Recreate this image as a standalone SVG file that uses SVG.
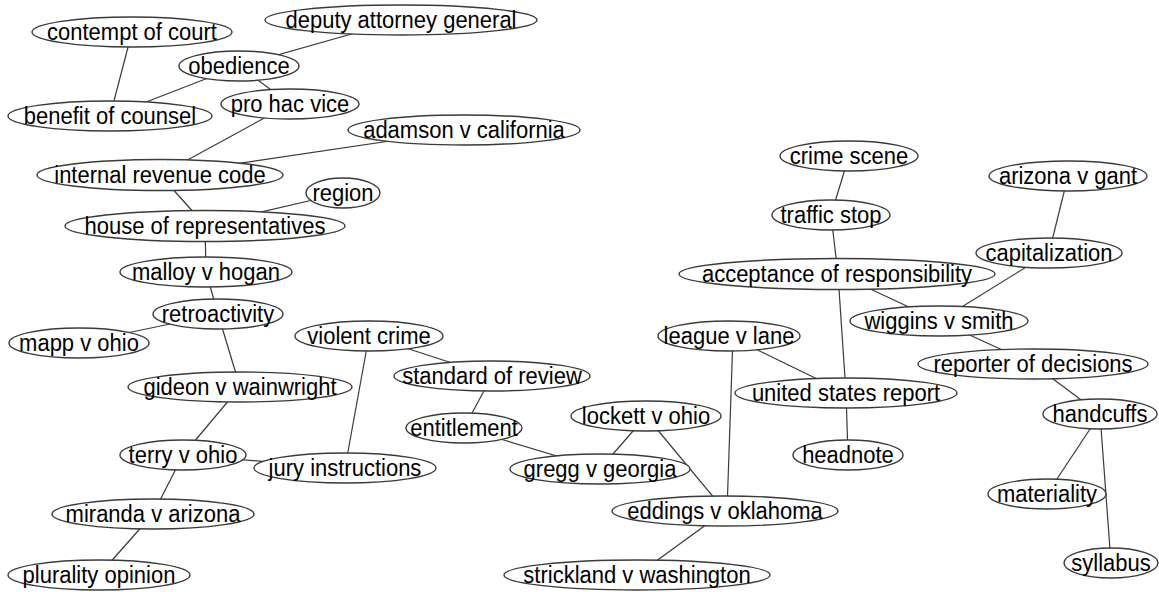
<svg xmlns="http://www.w3.org/2000/svg" width="1159" height="592" viewBox="0 0 1159 592">
  <style>
    .edge { stroke: #3a3a3a; stroke-width: 1.2; fill: none; }
    .node ellipse { fill: #ffffff; stroke: #3a3a3a; stroke-width: 1.4; }
    .node text { font-family: "Liberation Sans", Arial, sans-serif; font-size: 22px; fill: #000000; text-anchor: middle; dominant-baseline: central;
                 transform-box: fill-box; transform-origin: center; transform: scaleY(1.12); }
  </style>
  <rect width="1159" height="592" fill="#ffffff"/>

  <!-- connectors, drawn centre to centre beneath the filled ellipses -->
  <g id="edges" class="edge">
    <line x1="132" y1="32" x2="110" y2="116"/>
    <line x1="401" y1="20" x2="239" y2="66"/>
    <line x1="239" y1="66" x2="110" y2="116"/>
    <line x1="239" y1="66" x2="290" y2="104"/>
    <line x1="290" y1="104" x2="160" y2="175"/>
    <line x1="464" y1="130" x2="160" y2="175"/>
    <line x1="160" y1="175" x2="205" y2="225"/>
    <line x1="343" y1="193" x2="205" y2="225"/>
    <line x1="205" y1="225" x2="206" y2="272"/>
    <line x1="206" y1="272" x2="218" y2="314"/>
    <line x1="218" y1="314" x2="79" y2="343"/>
    <line x1="218" y1="314" x2="240" y2="387"/>
    <line x1="240" y1="387" x2="183" y2="455"/>
    <line x1="183" y1="455" x2="345" y2="468"/>
    <line x1="183" y1="455" x2="153" y2="514"/>
    <line x1="153" y1="514" x2="99" y2="575"/>
    <line x1="369" y1="336" x2="345" y2="468"/>
    <line x1="369" y1="336" x2="492" y2="376"/>
    <line x1="492" y1="376" x2="464" y2="428"/>
    <line x1="464" y1="428" x2="600" y2="469"/>
    <line x1="646" y1="416" x2="600" y2="469"/>
    <line x1="646" y1="416" x2="725" y2="511"/>
    <line x1="733" y1="336" x2="727" y2="511"/>
    <line x1="729" y1="336" x2="846" y2="393"/>
    <line x1="725" y1="511" x2="637" y2="575"/>
    <line x1="849" y1="156" x2="831" y2="215"/>
    <line x1="831" y1="215" x2="838" y2="274"/>
    <line x1="838" y1="274" x2="846" y2="393"/>
    <line x1="838" y1="274" x2="939" y2="321"/>
    <line x1="1068" y1="176" x2="1049" y2="253"/>
    <line x1="1049" y1="253" x2="939" y2="321"/>
    <line x1="939" y1="321" x2="1033" y2="364"/>
    <line x1="1033" y1="364" x2="1100" y2="414"/>
    <line x1="846" y1="393" x2="848" y2="455"/>
    <line x1="1100" y1="414" x2="1047" y2="494"/>
    <line x1="1100" y1="414" x2="1111" y2="563"/>
  </g>

  <g id="contempt-of-court" class="node"><ellipse cx="132" cy="32" rx="100" ry="15"/><text x="132" y="32">contempt of court</text></g>
  <g id="deputy-attorney-general" class="node"><ellipse cx="401" cy="20" rx="136" ry="15"/><text x="401" y="20">deputy attorney general</text></g>
  <g id="obedience" class="node"><ellipse cx="239" cy="66" rx="60" ry="15"/><text x="239" y="66">obedience</text></g>
  <g id="benefit-of-counsel" class="node"><ellipse cx="110" cy="116" rx="102" ry="15"/><text x="110" y="116">benefit of counsel</text></g>
  <g id="pro-hac-vice" class="node"><ellipse cx="290" cy="104" rx="69" ry="15"/><text x="290" y="104">pro hac vice</text></g>
  <g id="adamson-v-california" class="node"><ellipse cx="464" cy="130" rx="116" ry="15"/><text x="464" y="130">adamson v california</text></g>
  <g id="internal-revenue-code" class="node"><ellipse cx="160" cy="175" rx="123" ry="15.5"/><text x="160" y="175">internal revenue code</text></g>
  <g id="region" class="node"><ellipse cx="343" cy="193" rx="37" ry="15"/><text x="343" y="193">region</text></g>
  <g id="house-of-representatives" class="node"><ellipse cx="205" cy="226" rx="140" ry="15.5"/><text x="205" y="226">house of representatives</text></g>
  <g id="malloy-v-hogan" class="node"><ellipse cx="206" cy="272" rx="86" ry="15"/><text x="206" y="272">malloy v hogan</text></g>
  <g id="retroactivity" class="node"><ellipse cx="218" cy="314" rx="65" ry="15"/><text x="218" y="314">retroactivity</text></g>
  <g id="mapp-v-ohio" class="node"><ellipse cx="79" cy="343" rx="70" ry="15"/><text x="79" y="343">mapp v ohio</text></g>
  <g id="violent-crime" class="node"><ellipse cx="369" cy="336" rx="74" ry="15"/><text x="369" y="336">violent crime</text></g>
  <g id="standard-of-review" class="node"><ellipse cx="492" cy="376" rx="98" ry="15"/><text x="492" y="376">standard of review</text></g>
  <g id="gideon-v-wainwright" class="node"><ellipse cx="240" cy="387" rx="112" ry="15"/><text x="240" y="387">gideon v wainwright</text></g>
  <g id="entitlement" class="node"><ellipse cx="464" cy="428" rx="58" ry="15"/><text x="464" y="428">entitlement</text></g>
  <g id="terry-v-ohio" class="node"><ellipse cx="183" cy="455" rx="63" ry="15"/><text x="183" y="455">terry v ohio</text></g>
  <g id="jury-instructions" class="node"><ellipse cx="345" cy="468" rx="91" ry="15"/><text x="345" y="468">jury instructions</text></g>
  <g id="lockett-v-ohio" class="node"><ellipse cx="646" cy="416" rx="75" ry="15"/><text x="646" y="416">lockett v ohio</text></g>
  <g id="gregg-v-georgia" class="node"><ellipse cx="600" cy="469" rx="90" ry="15"/><text x="600" y="469">gregg v georgia</text></g>
  <g id="miranda-v-arizona" class="node"><ellipse cx="153" cy="514" rx="101" ry="15"/><text x="153" y="514">miranda v arizona</text></g>
  <g id="eddings-v-oklahoma" class="node"><ellipse cx="725" cy="511" rx="113" ry="15"/><text x="725" y="511">eddings v oklahoma</text></g>
  <g id="plurality-opinion" class="node"><ellipse cx="99" cy="575" rx="91" ry="15"/><text x="99" y="575">plurality opinion</text></g>
  <g id="strickland-v-washington" class="node"><ellipse cx="637" cy="575" rx="133" ry="15"/><text x="637" y="575">strickland v washington</text></g>
  <g id="crime-scene" class="node"><ellipse cx="849" cy="156" rx="69" ry="15"/><text x="849" y="156">crime scene</text></g>
  <g id="traffic-stop" class="node"><ellipse cx="831" cy="215" rx="59" ry="15"/><text x="831" y="215">traffic stop</text></g>
  <g id="arizona-v-gant" class="node"><ellipse cx="1068" cy="176" rx="79" ry="15"/><text x="1068" y="176">arizona v gant</text></g>
  <g id="capitalization" class="node"><ellipse cx="1049" cy="253" rx="73" ry="15"/><text x="1049" y="253">capitalization</text></g>
  <g id="acceptance-of-responsibility" class="node"><ellipse cx="837" cy="274" rx="158" ry="15.5"/><text x="837" y="274">acceptance of responsibility</text></g>
  <g id="wiggins-v-smith" class="node"><ellipse cx="939" cy="321" rx="89" ry="15"/><text x="939" y="321">wiggins v smith</text></g>
  <g id="league-v-lane" class="node"><ellipse cx="729" cy="336" rx="71" ry="15"/><text x="729" y="336">league v lane</text></g>
  <g id="reporter-of-decisions" class="node"><ellipse cx="1033" cy="364" rx="115" ry="15"/><text x="1033" y="364">reporter of decisions</text></g>
  <g id="united-states-report" class="node"><ellipse cx="846" cy="393" rx="111" ry="15"/><text x="846" y="393">united states report</text></g>
  <g id="handcuffs" class="node"><ellipse cx="1100" cy="414" rx="57" ry="15"/><text x="1100" y="414">handcuffs</text></g>
  <g id="headnote" class="node"><ellipse cx="848" cy="455" rx="55" ry="15"/><text x="848" y="455">headnote</text></g>
  <g id="materiality" class="node"><ellipse cx="1047" cy="494" rx="59" ry="15"/><text x="1047" y="494">materiality</text></g>
  <g id="syllabus" class="node"><ellipse cx="1111" cy="563" rx="47" ry="15"/><text x="1111" y="563">syllabus</text></g>
</svg>
